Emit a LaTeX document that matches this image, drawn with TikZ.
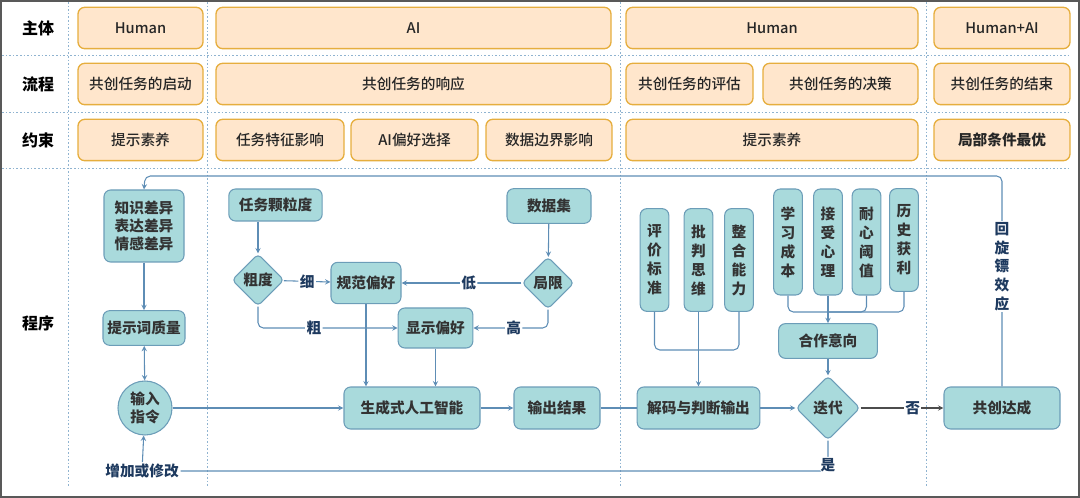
\documentclass[tikz,border=0pt]{standalone}
\usepackage{fontspec}
\setmainfont{Noto Sans CJK SC}
\newfontfamily\medfont{Noto Sans CJK SC Medium}
\usepackage{tikz}
\usetikzlibrary{shapes.geometric,positioning}

\definecolor{hdrfill}{HTML}{FFE6CC}
\definecolor{hdrline}{HTML}{E6AE3E}
\definecolor{tealfill}{HTML}{A9DADC}
\definecolor{tealline}{HTML}{6C9DB8}
\definecolor{flowline}{HTML}{5E8DB5}
\definecolor{lbltext}{HTML}{1E3A5F}
\definecolor{gridline}{HTML}{8FB3D0}

\begin{document}
\begin{tikzpicture}[x=0.75pt,y=-0.75pt,>=stealth,line width=0.8pt]
\tikzstyle{hdr}=[draw=hdrline,fill=hdrfill,rounded corners=5pt,line width=1pt,minimum height=31pt,inner sep=2pt,text=black!85,font=\medfont\fontsize{11}{13}\selectfont]
\tikzstyle{proc}=[draw=tealline,fill=tealfill,rounded corners=5pt,inner sep=2pt,text=black!80,align=center,font=\bfseries\fontsize{11}{13.5}\selectfont]
\tikzstyle{vproc}=[proc,minimum width=21.5pt,font=\bfseries\fontsize{11}{14.25}\selectfont]
\tikzstyle{cond}=[proc,diamond,rounded corners=3pt,inner sep=0pt]
\tikzstyle{flow}=[draw=flowline,rounded corners=4pt]
\tikzstyle{lbl}=[text=lbltext,inner sep=1pt,font=\bfseries\fontsize{11}{13}\selectfont]
\tikzstyle{rowlbl}=[text=black,font=\bfseries\fontsize{12}{14}\selectfont]
\tikzstyle{sepline}=[draw=gridline,line width=0.6pt,dash pattern=on 1.2pt off 1.5pt]

\useasboundingbox (0,0) rectangle (1080,498);
\draw[black!65,line width=1.5pt] (1,1) rectangle (1079,497);

% lane separators
\foreach \y in {55,112,168} \draw[sepline] (2,\y) -- (1070,\y);
\foreach \x in {68,207,620,926} \draw[sepline] (\x,2) -- (\x,488);

% row labels
\node[rowlbl] (lsub) at (38,28) {主体};
\node[rowlbl] (lflow) at (38,84) {流程};
\node[rowlbl] (lcon) at (38,140) {约束};
\node[rowlbl] (lproc) at (38,323) {程序};

% header rows
\node[hdr,minimum width=93.75pt] (sub1) at (140.5,28) {Human};
\node[hdr,minimum width=296.25pt] (sub2) at (413.5,28) {AI};
\node[hdr,minimum width=219pt] (sub3) at (772,28) {Human};
\node[hdr,minimum width=102pt] (sub4) at (1002,28) {Human+AI};

\node[hdr,minimum width=93.75pt] (st1) at (140.5,84) {共创任务的启动};
\node[hdr,minimum width=296.25pt] (st2) at (413.5,84) {共创任务的响应};
\node[hdr,minimum width=95.25pt] (st3) at (689.5,84) {共创任务的评估};
\node[hdr,minimum width=116.25pt] (st4) at (840.5,84) {共创任务的决策};
\node[hdr,minimum width=102pt] (st5) at (1002,84) {共创任务的结束};

\node[hdr,minimum width=93.75pt] (c1) at (140.5,140) {提示素养};
\node[hdr,minimum width=96pt] (c2) at (280,140) {任务特征影响};
\node[hdr,minimum width=95.25pt] (c3) at (414.5,140) {AI偏好选择};
\node[hdr,minimum width=94.5pt] (c4) at (549,140) {数据边界影响};
\node[hdr,minimum width=219pt] (c5) at (772,140) {提示素养};
\node[hdr,minimum width=102pt,font=\bfseries\fontsize{11}{13}\selectfont] (c6) at (1002,140) {局部条件最优};

% human start
\node[proc,minimum width=60pt,minimum height=54pt] (diff) at (144,226) {知识差异\\表达差异\\情感差异};
\node[proc,minimum width=61.5pt,minimum height=26pt] (pq) at (144,328) {提示词质量};
\node[proc,circle,minimum size=40.5pt,inner sep=0pt] (inp) at (145,408) {输入\\指令};
\node[lbl] (mod) at (142,471) {增加或修改};

% AI response
\node[proc,minimum width=70pt,minimum height=24pt] (gran) at (275.5,205) {任务颗粒度};
\node[cond,minimum size=39pt] (cu) at (258,280) {粗度};
\node[proc,minimum width=52.5pt,minimum height=31pt] (norm) at (366,283) {规范偏好};
\node[proc,minimum width=56pt,minimum height=30pt] (disp) at (435.5,328) {显示偏好};
\node[proc,minimum width=63pt,minimum height=26pt] (data) at (549,206) {数据集};
\node[cond,minimum size=39pt] (lim) at (548,283) {局限};
\node[proc,minimum width=102pt,minimum height=31.5pt] (gen) at (412,408) {生成式人工智能};
\node[proc,minimum width=64.5pt,minimum height=31.5pt] (out) at (557,408) {输出结果};

% human evaluation
\node[vproc,minimum height=77pt] (eval) at (654.5,260) {评\\价\\标\\准};
\node[vproc,minimum height=77pt] (crit) at (698.5,260) {批\\判\\思\\维};
\node[vproc,minimum height=77pt] (integ) at (739,260) {整\\合\\能\\力};
\node[proc,minimum width=92pt,minimum height=31.5pt] (dec) at (698.5,408) {解码与判断输出};

\node[vproc,minimum height=79.5pt] (learn) at (788,242) {学\\习\\成\\本};
\node[vproc,minimum height=79.5pt] (accept) at (828,242) {接\\受\\心\\理};
\node[vproc,minimum height=79.5pt] (pat) at (866.5,242) {耐\\心\\阈\\值};
\node[vproc,minimum height=77pt] (hist) at (904,240) {历\\史\\获\\利};
\node[proc,minimum width=74pt,minimum height=26pt] (coop) at (828,341) {合作意向};
\node[cond,minimum size=48pt] (it) at (828,408) {迭代};

% end
\node[proc,minimum width=87pt,minimum height=31.5pt] (done) at (1002,408) {共创达成};

\coordinate (m1) at (698.5,350);
\coordinate (m2) at (828,312);
\coordinate (ret) at (145,176);

\path[->]
(diff) edge[flow] (pq)
(pq) edge[flow,<->] (inp)
(mod) edge[flow] (inp)
(inp) edge[flow] (gen)
(gran.south -| cu.north) edge[flow] (cu.north)
(cu) edge[flow] node[lbl,fill=white]{细} (norm)
(data) edge[flow] (lim)
(lim) edge[flow] node[lbl,fill=white,pos=0.44]{低} (norm)
(norm.south) edge[flow] (norm.south |- gen.north)
(disp.south) edge[flow] (disp.south |- gen.north)
(gen) edge[flow] (out)
(dec) edge[flow] (dec.west -| it.west)
(crit) edge[flow] (dec)
(accept) edge[flow] (coop)
(coop) edge[flow] (it)
(it) edge[draw=black!70] node[lbl,fill=white,pos=0.63]{否} (done);

\draw[flow,->] (cu.south) |- node[lbl,fill=white,pos=0.7]{粗} (disp.west);
\draw[flow,->] (lim.south) |- node[lbl,fill=white,pos=0.73]{高} (disp.east);
\draw[flow] (out) -- (dec);
\draw[flow] (eval.south) |- (m1);
\draw[flow] (integ.south) |- (m1);
\draw[flow] (learn.south) |- (m2);
\draw[flow] (pat.south) |- (m2);
\draw[flow] (hist.south) |- (m2);
\draw[flow] (it.south) |- node[lbl,fill=white,pos=0.5,anchor=south,yshift=-2pt]{是} (mod.east);
\draw[flow,->] (done.north) |- node[lbl,fill=white,pos=0.285,align=center,font=\bfseries\fontsize{11}{14}\selectfont]{回\\旋\\镖\\效\\应} (ret) -- (diff.north);
\end{tikzpicture}
\end{document}
